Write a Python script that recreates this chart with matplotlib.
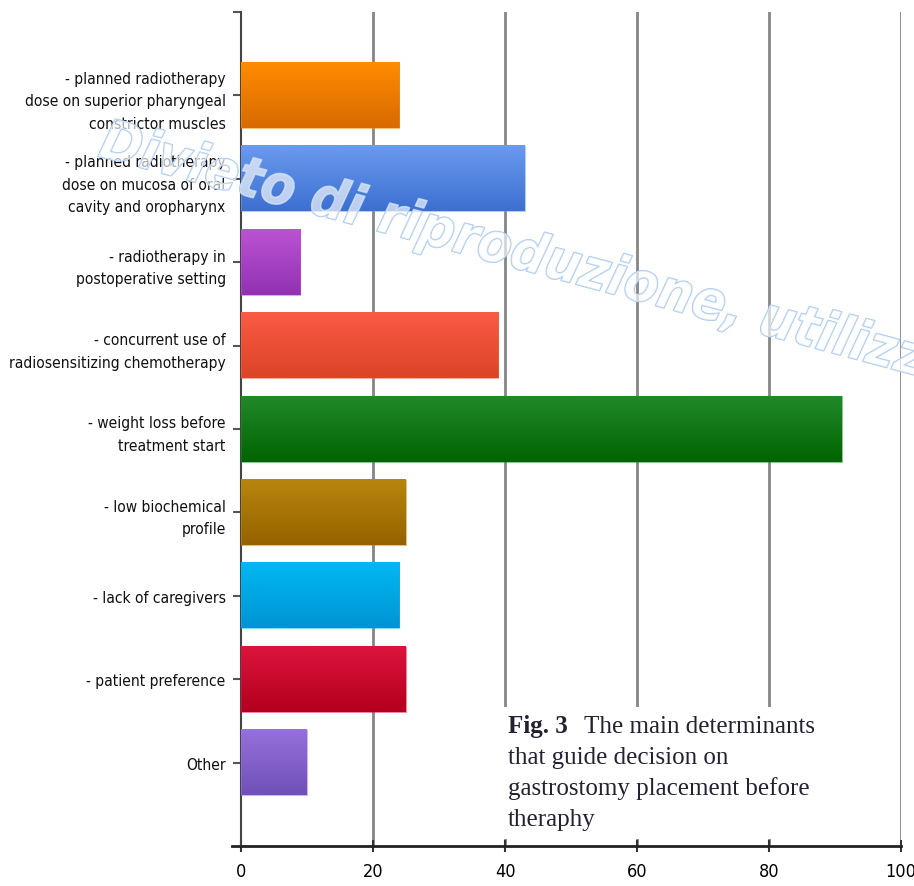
import numpy as np
import matplotlib.pyplot as plt
from matplotlib.colors import LinearSegmentedColormap
import matplotlib.patheffects as pe

# categories, top to bottom
labels = ['- planned radiotherapy\ndose on superior pharyngeal\nconstrictor muscles',
          '- planned radiotherapy\ndose on mucosa of oral\ncavity and oropharynx',
          '- radiotherapy in\npostoperative setting',
          '- concurrent use of\nradiosensitizing chemotherapy',
          '- weight loss before\ntreatment start',
          '- low biochemical\nprofile',
          '- lack of caregivers',
          '- patient preference',
          'Other']
values = [24, 43, 9, 39, 91, 25, 24, 25, 10]
top_colors = ['#ff8c00', '#6a9bee', '#bb52d4', '#fa5b44', '#22892a', '#b8860e', '#00b8f2', '#dc143c', '#9670dc']
bottom_colors = ['#d86a00', '#3d6fd2', '#9132b2', '#db4427', '#006400', '#966200', '#0094d4', '#b3001e', '#7050b8']
xticks = [0, 20, 40, 60, 80, 100]

narrow = ['DejaVu Sans']
serif = ['Liberation Serif', 'DejaVu Serif']

fig = plt.figure(figsize=(9.14, 8.87), dpi=100)
W, H = 914, 887
ax = fig.add_axes([241 / W, 40 / H, 660 / W, 834 / H])

pos = np.arange(1, len(values) + 1)
bar_h = 0.78
grad = np.linspace(0, 1, 64).reshape(-1, 1)
for p, v, c1, c2 in zip(pos, values, top_colors, bottom_colors):
    cmap = LinearSegmentedColormap.from_list('g', [c1, c2])
    ax.imshow(grad, cmap=cmap, aspect='auto', extent=[0, v, p + bar_h / 2, p - bar_h / 2],
              zorder=3, interpolation='bilinear')
    ax.barh(p, v, height=bar_h, color='none', edgecolor=c1, linewidth=0.8, alpha=0.5, zorder=4)

ax.set_xlim(0, 100)
ax.set_ylim(10, 0)

for x in xticks[1:]:
    ax.axvline(x, color='#858585', linewidth=2, zorder=1)

ax.set_xticks(xticks)
ax.set_xticklabels([str(x) for x in xticks], family=narrow, fontstretch='condensed', fontsize=13)
ax.set_yticks([0] + list(pos))
ax.set_yticklabels([''] + labels, family=narrow, fontstretch='condensed', fontsize=11.2,
                   linespacing=1.62, color='#111111')
ax.tick_params(axis='x', direction='inout', length=9, width=1.5, color='#333333', pad=7)
ax.tick_params(axis='y', direction='out', length=6, width=1.5, color='#555555', pad=5)

for s in ['top', 'right']:
    ax.spines[s].set_visible(False)
ax.spines['left'].set_color('#444444')
ax.spines['left'].set_linewidth(1.5)
ax.spines['bottom'].set_color('#222222')
ax.spines['bottom'].set_linewidth(2)
ax.spines['bottom'].set_bounds(-1.4, 100)
ax.spines['bottom'].set_zorder(5)

# caption box over gridlines
fig.patches.append(plt.Rectangle((500 / W, 1 - 840 / H), 395 / W, 132 / H,
                                 transform=fig.transFigure, facecolor='white',
                                 edgecolor='none', zorder=6))
fig.text(508 / W, 1 - 733 / H, 'Fig. 3', family=serif, fontsize=18, fontweight='bold',
         color='#222233', zorder=7)
fig.text(584 / W, 1 - 733 / H, 'The main determinants', family=serif, fontsize=18,
         color='#222233', zorder=7)
for i, line in enumerate(['that guide decision on', 'gastrostomy placement before', 'theraphy']):
    fig.text(508 / W, 1 - (764 + 31 * i) / H, line, family=serif, fontsize=18,
             color='#222233', zorder=7)

# watermark
wm = fig.text(97 / W, 1 - 157 / H, 'Divieto di riproduzione, utilizzo', family=narrow,
              fontstretch='condensed', fontsize=40, fontweight='bold', fontstyle='italic',
              rotation=-15, rotation_mode='anchor', ha='left', va='baseline',
              color=(1, 1, 1, 0.3), zorder=10)
wm.set_path_effects([pe.withStroke(linewidth=1.1, foreground='#a8c8f0'), pe.Normal()])

fig.savefig('out.png', dpi=100)
